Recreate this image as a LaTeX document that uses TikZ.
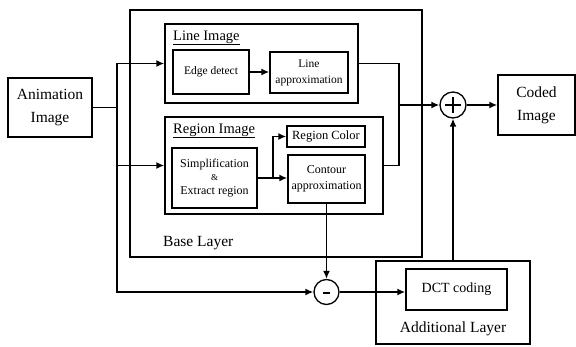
\documentclass[tikz,border=0pt]{standalone}
\usepackage{fontspec}
\setmainfont{Liberation Serif}
\usetikzlibrary{arrows.meta,calc}
\begin{document}
\begin{tikzpicture}[x=1pt,y=-1pt,
  blk/.style={draw, line width=1.4pt, inner sep=0pt, align=center},
  wire/.style={draw, line width=1.6pt},
  arr/.style={wire, -{Latex[length=8pt,width=7pt]}},
  bigf/.style={font=\fontsize{15.5}{23}\selectfont},
  smf/.style={font=\fontsize{11.5}{16}\selectfont},
  sumc/.style={draw, circle, line width=1.3pt, minimum size=26pt, inner sep=0pt}]
\useasboundingbox (0,0) rectangle (576,346);
% frames
\node[blk, minimum width=292pt, minimum height=247pt] (base) at (276,133.5) {};
\node[blk, minimum width=193pt, minimum height=79pt] (limg) at (261.5,63.5) {};
\node[blk, minimum width=218pt, minimum height=97pt] (rimg) at (274,165.5) {};
\node[blk, minimum width=154pt, minimum height=83pt] (addl) at (453,302.5) {};
% blocks
\node[blk, bigf, minimum width=84pt, minimum height=59pt] (anim) at (50,107.5) {Animation\\Image};
\node[blk, smf, minimum width=76pt, minimum height=44pt] (edge) at (211,72) {Edge detect};
\node[blk, smf, minimum width=78pt, minimum height=41pt] (lapp) at (309,72.5) {Line\\approximation};
\node[blk, font=\fontsize{12}{13.5}\selectfont, minimum width=85pt, minimum height=60pt] (simp) at (214.5,178) {Simplification\\{\small\&}\\Extract region};
\node[blk, font=\fontsize{12.5}{14}\selectfont, minimum width=78pt, minimum height=21pt] (rcol) at (326,136.5) {Region Color};
\node[blk, font=\fontsize{12}{16}\selectfont, minimum width=77pt, minimum height=48pt] (cont) at (326.5,179) {Contour\\approximation};
\node[blk, bigf, minimum width=77pt, minimum height=60pt] (coded) at (536.5,105) {Coded\\Image};
\node[blk, font=\fontsize{14}{16}\selectfont, minimum width=101pt, minimum height=41pt] (dct) at (456.5,289.5) {DCT coding};
\node[sumc] (plus) at (453,105) {};
\node[sumc, minimum size=25pt] (minus) at (326.5,292) {};
% labels
\node[anchor=base west, inner sep=0pt, font=\fontsize{14.5}{16}\selectfont] (lbl1) at (173,40) {\underline{Line Image}};
\node[anchor=base west, inner sep=0pt, font=\fontsize{14.5}{16}\selectfont] (lbl2) at (173,133) {\underline{Region Image}};
\node[anchor=base west, inner sep=0pt, bigf] (lbl3) at (163,246) {Base Layer};
\node[anchor=base, inner sep=0pt, bigf] (lbl4) at (453,332) {Additional Layer};
% signs
\draw[line width=1.8pt] ($(plus.center)+(-8,0)$) -- ($(plus.center)+(8,0)$);
\draw[line width=1.8pt] ($(plus.center)+(0,-8)$) -- ($(plus.center)+(0,8)$);
\draw[line width=1.8pt] ($(minus.center)+(-3.5,1)$) -- ($(minus.center)+(3.5,1)$);
% connectors
\coordinate (a) at (117,107.5);
\coordinate (j) at (399,105);
\coordinate (br) at (273,178);
\path[wire] (anim.east) -- (a);
\path[arr] (a) |- (limg.west);
\path[arr] (a) |- (rimg.west);
\path[arr] (a) |- (minus.west);
\path[arr] (edge.east) -- (edge.east -| lapp.west);
\path[arr] (simp.east) -- (simp.east -| cont.west);
\path[arr] (br) |- (rcol.west);
\path[wire] (limg.east) -| (j);
\path[wire] (rimg.east) -| (j);
\path[arr] (j) -- (plus.west);
\path[arr] (plus.east) -- (coded.west);
\path[arr] (cont.south) -- (minus.north);
\path[arr] (minus.east) -- (minus.east -| dct.west);
\path[arr] (addl.north) -- (plus.south);
\end{tikzpicture}
\end{document}
